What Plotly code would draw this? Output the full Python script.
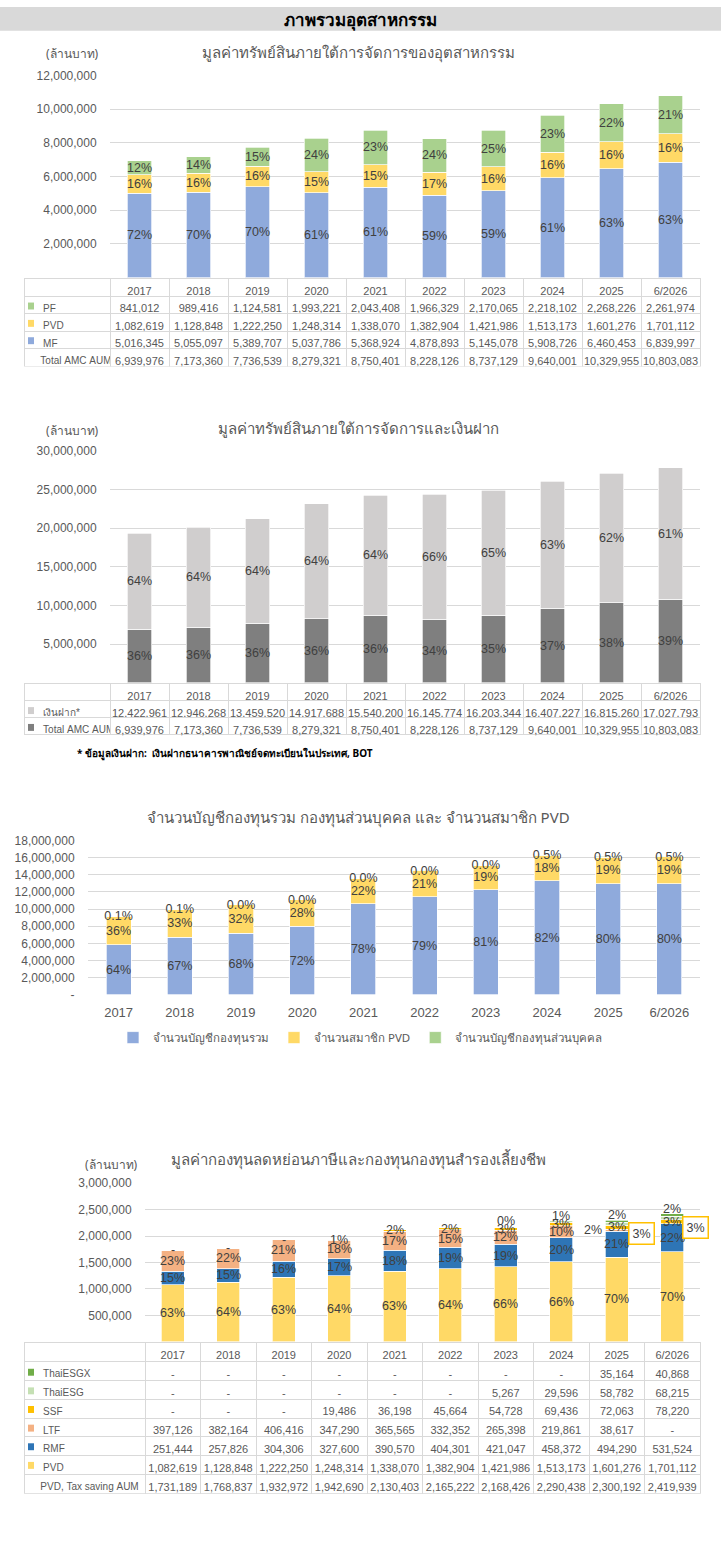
import plotly.graph_objects as go

W, H = 721, 1547

years = ["2017", "2018", "2019", "2020", "2021", "2022", "2023", "2024", "2025", "6/2026"]

# chart 1: AUM of the industry (million baht)
pf = [841012, 989416, 1124581, 1993221, 2043408, 1966329, 2170065, 2218102, 2268226, 2261974]
pvd = [1082619, 1128848, 1222250, 1248314, 1338070, 1382904, 1421986, 1513173, 1601276, 1701112]
mf = [5016345, 5055097, 5389707, 5037786, 5368924, 4878893, 5145078, 5908726, 6460453, 6839997]
total_aum = [6939976, 7173360, 7736539, 8279321, 8750401, 8228126, 8737129, 9640001, 10329955, 10803083]

# chart 2: AUM vs bank deposits
deposit = [12422961, 12946268, 13459520, 14917688, 15540200, 16145774, 16203344, 16407227, 16815260, 17027793]

# chart 3: accounts / members
mf_accounts = [5850000, 6700000, 7160000, 8000000, 10600000, 11450000, 12250000, 13290000, 12940000, 12950000]
pvd_members = [3300000, 3300000, 3370000, 3110000, 2990000, 3040000, 2870000, 2920000, 3120000, 3130000]
pf_accounts = [9000, 10000, 4000, 4000, 5000, 5000, 6000, 80000, 80000, 82000]

# chart 4: tax saving funds + PVD
thaiesgx = [0, 0, 0, 0, 0, 0, 0, 0, 35164, 40868]
thaiesg = [0, 0, 0, 0, 0, 0, 5267, 29596, 58782, 68215]
ssf = [0, 0, 0, 19486, 36198, 45664, 54728, 69436, 72063, 78220]
ltf = [397126, 382164, 406416, 347290, 365565, 332352, 265398, 219861, 38617, 0]
rmf = [251444, 257826, 304306, 327600, 390570, 404301, 421047, 458372, 494290, 531524]
tax_total = [1731189, 1768837, 1932972, 1942690, 2130403, 2165222, 2168426, 2290438, 2300192, 2419939]

ticks1 = [0, 2000000, 4000000, 6000000, 8000000, 10000000, 12000000]
ticks2 = [0, 5000000, 10000000, 15000000, 20000000, 25000000, 30000000]
ticks3 = [0, 2000000, 4000000, 6000000, 8000000, 10000000, 12000000, 14000000, 16000000, 18000000]
ticks4 = [0, 500000, 1000000, 1500000, 2000000, 2500000, 3000000]

C_MF, C_PVD, C_PF = "#8FAADC", "#FFD966", "#A9D18E"
C_DEP, C_AUM = "#D0CECE", "#7F7F7F"
C_RMF, C_LTF, C_SSF, C_ESG, C_ESGX = "#2E75B6", "#F4B183", "#FFC000", "#C5E0B4", "#70AD47"
GRID = "#D9D9D9"
TXT = "#595959"
FONT = "Noto Sans, Liberation Sans, sans-serif"
NARROW = "Liberation Sans Narrow, Arial Narrow, Liberation Sans, sans-serif"


def px(p):
    return p / W


def py(p):
    return 1 - p / H


def fmt(v):
    return "-" if not v else f"{v:,}"


def pct(vals, tot, dec=0):
    return [f"{100 * v / t:.{dec}f}%" for v, t in zip(vals, tot)]


def tick_text(vals):
    return ["-" if v == 0 else f"{v:,}" for v in vals]


fig = go.Figure()


def add_bar(y, color, text, xa, ya, name=None, legend=False):
    fig.add_trace(go.Bar(
        x=years, y=y, name=name, showlegend=legend,
        marker=dict(color=color, line=dict(color="white", width=0.7)),
        text=text, textposition="inside" if text else "none",
        insidetextanchor="middle", constraintext="none", textangle=0,
        textfont=dict(size=12.5, color="#404040", family=NARROW),
        xaxis=xa, yaxis=ya, hoverinfo="skip",
    ))


# chart 1
add_bar(mf, C_MF, pct(mf, total_aum), "x", "y")
add_bar(pvd, C_PVD, pct(pvd, total_aum), "x", "y")
add_bar(pf, C_PF, pct(pf, total_aum), "x", "y")

# chart 2
tot2 = [a + d for a, d in zip(total_aum, deposit)]
add_bar(total_aum, C_AUM, pct(total_aum, tot2), "x2", "y2")
add_bar(deposit, C_DEP, pct(deposit, tot2), "x2", "y2")

# chart 3
tot3 = [a + b + c for a, b, c in zip(mf_accounts, pvd_members, pf_accounts)]
add_bar(mf_accounts, C_MF, pct(mf_accounts, tot3), "x3", "y3", "จำนวนบัญชีกองทุนรวม", True)
add_bar(pvd_members, C_PVD, pct(pvd_members, tot3), "x3", "y3", "จำนวนสมาชิก PVD", True)
add_bar(pf_accounts, C_PF, pct(pf_accounts, tot3, 1), "x3", "y3", "จำนวนบัญชีกองทุนส่วนบุคคล", True)

# chart 4
series4 = [("PVD", pvd, C_PVD), ("RMF", rmf, C_RMF), ("LTF", ltf, C_LTF),
           ("SSF", ssf, C_SSF), ("ThaiESG", thaiesg, C_ESG), ("ThaiESGX", thaiesgx, C_ESGX)]
for name, vals, col in series4:
    add_bar(vals, col, None, "x4", "y4")

base = [0] * len(years)
for name, vals, col in series4:
    for i, v in enumerate(vals):
        mid = base[i] + v / 2
        label, xs, ys, box = None, 0, 0, False
        if v > 0:
            label = f"{round(100 * v / tax_total[i])}%"
        elif name == "SSF" and i < 3:
            label = "-"
        if label is None:
            continue
        if name in ("ThaiESG", "ThaiESGX"):
            ys = 6
        if name == "LTF" and years[i] == "2025":
            xs = -24
        if name == "ThaiESG" and i >= 8:
            xs, ys, box = (25 if i == 8 else 23), -10, True
        fig.add_annotation(
            x=i, y=mid, xref="x4", yref="y4", text=label, showarrow=False,
            xshift=xs, yshift=ys,
            font=dict(size=12.5, color="#404040", family=NARROW),
            bordercolor="#FFC000" if box else "rgba(0,0,0,0)", borderwidth=1.5 if box else 0,
            bgcolor="white" if box else "rgba(0,0,0,0)", borderpad=3,
        )
    base = [b + v for b, v in zip(base, vals)]


# axes
def xax(dom, showlabels=False):
    return dict(domain=[px(dom[0]), px(dom[1])], type="category", range=[-0.5, 9.5],
                showgrid=False, showticklabels=showlabels, ticks="outside" if showlabels else "",
                ticklen=5, tickcolor="rgba(0,0,0,0)", zeroline=False, showline=False,
                tickfont=dict(size=13, color=TXT, family=NARROW))


def yax(dom, ticks):
    return dict(domain=[py(dom[1]), py(dom[0])], range=[0, ticks[-1]], tickvals=ticks,
                ticktext=tick_text(ticks), showgrid=True, gridcolor=GRID, gridwidth=1,
                zeroline=False, showline=False, ticks="outside", ticklen=10,
                tickcolor="rgba(0,0,0,0)", tickfont=dict(size=12, color=TXT, family=NARROW))


fig.update_layout(
    xaxis=dict(xax((110, 700)), anchor="y"),
    yaxis=dict(yax((69, 273), ticks1), anchor="x"),
    xaxis2=dict(xax((110, 700)), anchor="y2"),
    yaxis2=dict(yax((448, 682), ticks2), anchor="x2"),
    xaxis3=dict(xax((88, 700), True), anchor="y3"),
    yaxis3=dict(yax((841, 997), ticks3), anchor="x3"),
    xaxis4=dict(xax((145, 700)), anchor="y4"),
    yaxis4=dict(yax((1187, 1347), ticks4), anchor="x4"),
)


# tables, with coloured legend squares drawn beside the row labels
NB = "\u00a0"


def add_table(rows, top, first_w, col_w, row_h):
    n = len(rows)
    bottom = top + row_h * (n + 1)
    labels = [(NB * 4 if r[1] else NB * 3) + r[0].replace(" ", NB) for r in rows]
    cols = [labels] + [[fmt(r[2][i]) for r in rows] for i in range(len(years))]
    left, right = 24, 24 + first_w + col_w * len(years)
    fig.add_trace(go.Table(
        domain=dict(x=[px(left), px(right)], y=[py(bottom + 2), py(top)]),
        columnwidth=[first_w] + [col_w] * len(years),
        header=dict(values=[""] + years, height=row_h, fill_color="white",
                    line_color=GRID, align="center",
                    font=dict(size=11, color=TXT, family=NARROW)),
        cells=dict(values=cols, height=row_h, fill_color="white", line_color=GRID,
                   align=["left", "center"],
                   font=dict(size=[10] + [11] * len(years), color=TXT, family=NARROW)),
    ))
    for k, r in enumerate(rows):
        if not r[1]:
            continue
        yc = top + row_h * (k + 1.5) + 2
        fig.add_shape(type="rect", xref="paper", yref="paper", x0=px(28), x1=px(34),
                      y0=py(yc + 3), y1=py(yc - 4), fillcolor=r[1], line_width=0,
                      layer="above")


add_table([("PF", C_PF, pf), ("PVD", C_PVD, pvd), ("MF", C_MF, mf),
           ("Total AMC AUM", None, total_aum)], 274, 86, 59, 17.5)
add_table([("เงินฝาก*", C_DEP, deposit), ("Total AMC AUM", C_AUM, total_aum)],
          683, 86, 59, 17)
add_table([("ThaiESGX", C_ESGX, thaiesgx), ("ThaiESG", C_ESG, thaiesg),
           ("SSF", C_SSF, ssf), ("LTF", C_LTF, ltf), ("RMF", C_RMF, rmf),
           ("PVD", C_PVD, pvd), ("PVD, Tax saving AUM", None, tax_total)],
          1348, 121, 55.5, 18.8)

# header band and titles
fig.add_shape(type="rect", xref="paper", yref="paper", x0=0, x1=1, y0=py(24), y1=1,
              fillcolor="#D9D9D9", line_width=0, layer="below")


def note(text, x, y, size=14, color=TXT, xanchor="center", bold=False):
    fig.add_annotation(text=f"<b>{text}</b>" if bold else text, xref="paper", yref="paper",
                       x=px(x), y=py(y), xanchor=xanchor, yanchor="middle", showarrow=False,
                       font=dict(size=size, color=color, family=FONT))


note("ภาพรวมอุตสาหกรรม", 360, 13, 17, "black", bold=True)
note("มูลค่าทรัพย์สินภายใต้การจัดการของอุตสาหกรรม", 358, 46, 15)
note("(ล้านบาท)", 44, 47, 12, xanchor="left")
note("มูลค่าทรัพย์สินภายใต้การจัดการและเงินฝาก", 358, 425, 15)
note("(ล้านบาท)", 44, 427, 12, xanchor="left")
note("* ข้อมูลเงินฝาก:  เงินฝากธนาคารพาณิชย์จดทะเบียนในประเทศ, BOT", 75, 753, 10, "black",
     xanchor="left", bold=True)
note("จำนวนบัญชีกองทุนรวม กองทุนส่วนบุคคล และ จำนวนสมาชิก PVD", 358, 818, 15)
note("มูลค่ากองทุนลดหย่อนภาษีและกองทุนกองทุนสำรองเลี้ยงชีพ", 358, 1163, 15)
note("(ล้านบาท)", 83, 1168, 12, xanchor="left")

fig.update_layout(
    width=W, height=H, margin=dict(l=0, r=0, t=0, b=0),
    paper_bgcolor="white", plot_bgcolor="white",
    barmode="stack", bargap=0.59,
    font=dict(family=FONT, color=TXT),
    legend=dict(orientation="h", x=0.5, xanchor="center", y=py(1040), yanchor="middle",
                font=dict(size=11.5, color=TXT, family=FONT), itemwidth=30,
                traceorder="normal"),
)

# drop the browser's default page margin so the figure sits at the window corner
fig.write_html("out.html", config={"displayModeBar": False},
               post_script="document.body.style.margin='0';document.body.style.overflow='hidden';")
